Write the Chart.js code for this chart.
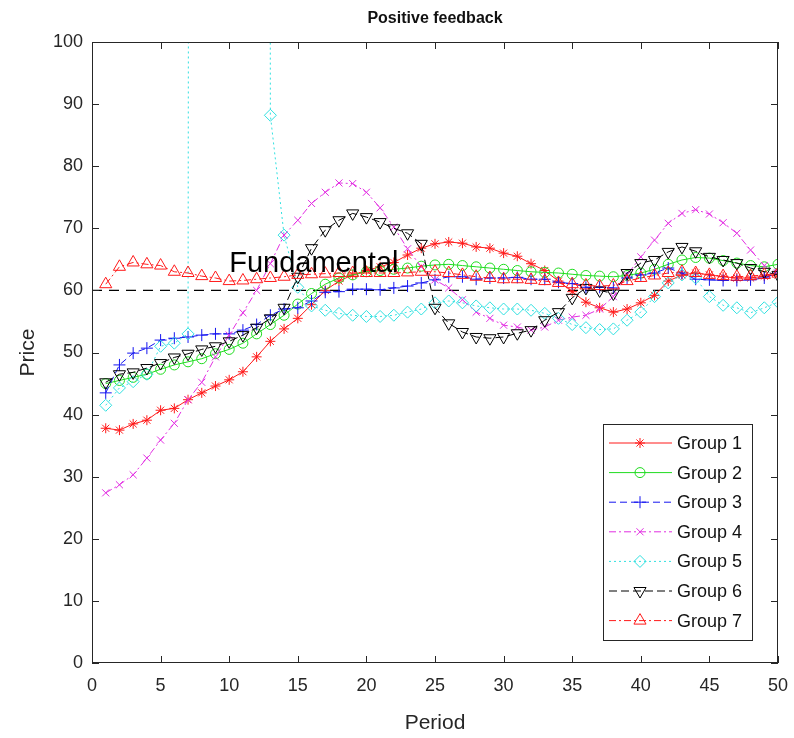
<!DOCTYPE html>
<html>
<head>
<meta charset="utf-8">
<title>Positive feedback</title>
<script src="https://cdn.jsdelivr.net/npm/chart.js@4.4.1/dist/chart.umd.min.js"></script>
<style>
  html, body { margin: 0; padding: 0; background: #fff; }
  #wrap { width: 794px; height: 738px; }
</style>
</head>
<body>
<div id="wrap"><canvas id="priceChart" width="794" height="738"></canvas></div>
<script>
const PERIODS = [1,2,3,4,5,6,7,8,9,10,11,12,13,14,15,16,17,18,19,20,21,22,23,24,25,
                 26,27,28,29,30,31,32,33,34,35,36,37,38,39,40,41,42,43,44,45,46,47,48,49,50];

const group1 = [37.8,37.5,38.5,39.1,40.7,41.0,42.4,43.5,44.6,45.6,46.9,49.3,51.8,53.8,55.5,57.7,60.0,61.5,62.5,63.2,
                63.8,64.5,65.7,66.8,67.5,67.8,67.6,67.0,66.8,66.0,65.5,64.3,63.2,61.5,59.8,58.1,57.2,56.5,57.0,58.0,
                59.2,61.5,62.5,62.8,62.5,62.2,62.0,62.0,62.3,62.5];
const group2 = [45.0,45.5,46.0,46.5,47.3,48.0,48.5,49.0,49.8,50.5,51.5,53.0,54.5,56.0,57.8,59.5,61.0,62.0,62.5,63.0,
                63.2,63.4,63.6,63.9,64.1,64.2,64.0,63.8,63.6,63.4,63.2,63.0,62.9,62.8,62.6,62.4,62.3,62.2,62.4,62.8,
                63.4,64.2,64.9,65.3,65.2,64.8,64.4,64.0,63.8,64.2];
const group3 = [43.5,48.0,49.9,50.7,52.0,52.3,52.5,52.8,53.0,53.0,53.6,54.5,56.0,57.0,57.2,58.3,59.7,59.8,60.2,60.2,
                60.1,60.4,60.7,61.2,61.7,62.2,62.2,61.8,62.0,62.0,62.1,61.8,61.8,61.3,61.1,60.5,60.5,60.4,62.0,62.5,
                62.8,63.6,62.8,61.8,61.7,61.6,61.6,61.7,62.0,62.8];
const group4 = [27.4,28.7,30.3,33.0,35.9,38.6,42.4,45.2,49.3,52.8,56.4,60.0,64.3,68.9,71.3,74.0,75.8,77.3,77.2,75.8,
                73.3,70.2,66.7,63.8,61.7,60.4,58.5,56.5,55.5,54.4,54.1,53.6,54.1,55.2,55.7,56.0,57.0,59.0,62.5,65.4,
                68.1,70.8,72.4,73.0,72.3,70.9,69.2,66.5,64.0,63.0];
// periods 8-12 are far above the axis limit (off the plot)
const group5 = [41.5,44.3,45.3,46.5,51.0,51.5,53.0,2000,2000,2000,2000,2000,88.2,68.9,60.5,57.5,56.8,56.3,56.0,55.8,
                55.8,56.0,56.5,57.0,58.0,58.3,58.0,57.5,57.2,57.0,57.0,56.8,56.3,55.5,54.5,54.0,53.7,53.8,55.2,56.5,
                59.0,61.2,62.5,62.0,59.0,57.6,57.2,56.4,57.2,58.1];
const group6 = [45.2,46.5,46.8,47.5,48.3,49.2,49.8,50.5,51.0,51.8,52.8,54.0,55.5,57.2,62.2,66.8,69.7,71.3,72.4,71.8,
                71.0,70.0,69.2,67.5,57.2,54.7,53.3,52.5,52.3,52.5,53.1,53.6,55.2,56.5,58.8,60.4,60.0,59.5,62.8,64.4,
                64.9,66.2,67.0,66.3,65.4,64.9,64.4,63.6,63.0,62.5];
const group7 = [61.0,63.8,64.5,64.2,64.0,63.0,62.8,62.3,62.0,61.5,61.6,61.8,62.0,62.2,62.5,62.6,62.7,62.8,62.8,62.8,
                62.8,62.8,62.9,63.0,63.0,62.8,62.5,62.2,62.0,61.8,61.8,61.7,61.5,61.2,61.0,60.8,60.7,60.8,61.5,62.0,
                62.4,62.8,63.0,62.8,62.5,62.3,62.2,62.3,62.5,62.7];

const FUNDAMENTAL = 60;
const FUND_SPAN = [0, 50];
const FUND_LABEL = "Fundamental";
const FUND_LABEL_AT = [10, 63];

const GROUP_NAMES = ["Group 1","Group 2","Group 3","Group 4","Group 5","Group 6","Group 7"];
const GROUP_VALUES = [group1, group2, group3, group4, group5, group6, group7];

const X_TICKS = [0,5,10,15,20,25,30,35,40,45,50];
const Y_TICKS = [0,10,20,30,40,50,60,70,80,90,100];

const FONT = '"Liberation Sans", Arial, Helvetica, sans-serif';
const AXIS_COLOR = '#262626';

// line style per group (MATLAB-like)
const STYLES = [
  {color: '#ff1a1a', dash: [],          point: 'star',     radius: 5, rot: 0},
  {color: '#1fdc1f', dash: [],          point: 'circle',   radius: 5, rot: 0},
  {color: '#1414f0', dash: [7, 4],      point: 'cross',    radius: 6, rot: 0},
  {color: '#e22ee2', dash: [7, 3, 2, 3],point: 'crossRot', radius: 5, rot: 0},
  {color: '#2fe0e0', dash: [2, 3],      point: 'rectRot',  radius: 6, rot: 0},
  {color: '#000000', dash: [8, 4],      point: 'triangle', radius: 7, rot: 180},
  {color: '#ff1a1a', dash: [7, 3, 2, 3],point: 'triangle', radius: 7, rot: 0}
];

function toXY(vals) {
  return vals.map((v, i) => ({x: PERIODS[i], y: v}));
}

const datasets = GROUP_NAMES.map((name, i) => ({
  label: name,
  data: toXY(GROUP_VALUES[i]),
  borderColor: STYLES[i].color,
  borderWidth: 1,
  borderDash: STYLES[i].dash,
  backgroundColor: 'rgba(0,0,0,0)',
  pointStyle: STYLES[i].point,
  pointRadius: STYLES[i].radius,
  pointRotation: STYLES[i].rot,
  pointBorderColor: STYLES[i].color,
  pointBackgroundColor: 'rgba(0,0,0,0)',
  pointBorderWidth: 1,
  tension: 0,
  order: GROUP_NAMES.length - i
}));

datasets.push({
  label: FUND_LABEL,
  data: FUND_SPAN.map(p => ({x: p, y: FUNDAMENTAL})),
  borderColor: '#000',
  borderWidth: 1.2,
  borderDash: [10, 7],
  pointRadius: 0,
  order: 99
});

const matlabFrame = {
  id: 'matlabFrame',
  afterDatasetsDraw(chart) {
    const {ctx, chartArea: a, scales: {x, y}} = chart;
    ctx.save();
    ctx.strokeStyle = AXIS_COLOR;
    ctx.lineWidth = 1;
    ctx.strokeRect(Math.round(a.left) + 0.5, Math.round(a.top) + 0.5,
                   Math.round(a.width) - 1, Math.round(a.height) - 1);
    ctx.beginPath();
    X_TICKS.forEach(t => {
      const px = Math.round(x.getPixelForValue(t)) + 0.5;
      ctx.moveTo(px, a.bottom); ctx.lineTo(px, a.bottom - 7);
      ctx.moveTo(px, a.top); ctx.lineTo(px, a.top + 7);
    });
    Y_TICKS.forEach(t => {
      const py = Math.round(y.getPixelForValue(t)) + 0.5;
      ctx.moveTo(a.left, py); ctx.lineTo(a.left + 7, py);
      ctx.moveTo(a.right, py); ctx.lineTo(a.right - 7, py);
    });
    ctx.stroke();

    ctx.fillStyle = '#000';
    ctx.font = '29px ' + FONT;
    ctx.textAlign = 'left';
    ctx.textBaseline = 'alphabetic';
    ctx.fillText(FUND_LABEL, x.getPixelForValue(FUND_LABEL_AT[0]), y.getPixelForValue(FUND_LABEL_AT[1]));
    ctx.restore();
  },
  afterDraw(chart) {
    const {ctx, chartArea: a} = chart;
    const w = 149, h = 216;
    const left = Math.round(a.right - 26 - w), top = Math.round(a.bottom - 23 - h);
    ctx.save();
    ctx.fillStyle = '#fff';
    ctx.fillRect(left, top, w, h);
    ctx.strokeStyle = AXIS_COLOR;
    ctx.lineWidth = 1;
    ctx.strokeRect(left + 0.5, top + 0.5, w, h);
    const drawPoint = Chart.helpers && Chart.helpers.drawPoint;
    GROUP_NAMES.forEach((name, i) => {
      const st = STYLES[i];
      const cy = top + 19 + i * 29.6;
      ctx.strokeStyle = st.color;
      ctx.lineWidth = 1;
      ctx.setLineDash(st.dash);
      ctx.beginPath();
      ctx.moveTo(left + 6, cy);
      ctx.lineTo(left + 69, cy);
      ctx.stroke();
      ctx.setLineDash([]);
      ctx.fillStyle = 'rgba(0,0,0,0)';
      if (drawPoint) {
        drawPoint(ctx, {pointStyle: st.point, radius: st.radius, rotation: st.rot, borderWidth: 1}, left + 37, cy);
      }
      ctx.fillStyle = '#111';
      ctx.font = '18px ' + FONT;
      ctx.textAlign = 'left';
      ctx.textBaseline = 'middle';
      ctx.fillText(name, left + 74, cy + 1);
    });
    ctx.restore();
  }
};

new Chart(document.getElementById('priceChart'), {
  type: 'line',
  data: {datasets: datasets},
  plugins: [matlabFrame],
  options: {
    responsive: false,
    animation: false,
    layout: {padding: {top: 0, right: 16, left: 0, bottom: 0}},
    plugins: {
      legend: {display: false},
      tooltip: {enabled: false},
      title: {
        display: true,
        text: 'Positive feedback',
        fullSize: false,
        color: '#111',
        font: {family: FONT, size: 16, weight: 'bold'},
        padding: {top: 9, bottom: 13.8}
      }
    },
    scales: {
      x: {
        type: 'linear',
        min: 0, max: 50,
        afterFit(s) { s.height = 75; s.paddingLeft = 0; s.paddingRight = 0; },
        afterBuildTicks(s) { s.ticks = X_TICKS.map(v => ({value: v})); },
        grid: {display: false, drawTicks: false},
        border: {display: false},
        ticks: {color: AXIS_COLOR, font: {family: FONT, size: 18}, padding: 12, maxRotation: 0},
        title: {display: true, text: 'Period', color: AXIS_COLOR, font: {family: FONT, size: 21}, padding: {top: 0, bottom: 2}}
      },
      y: {
        min: 0, max: 100,
        afterFit(s) { s.width = 92; },
        afterBuildTicks(s) { s.ticks = Y_TICKS.map(v => ({value: v})); },
        grid: {display: false, drawTicks: false},
        border: {display: false},
        ticks: {color: AXIS_COLOR, font: {family: FONT, size: 18}, padding: 9},
        title: {display: true, text: 'Price', color: AXIS_COLOR, font: {family: FONT, size: 21}, padding: {top: 16, bottom: 0}}
      }
    }
  }
});
</script>
</body>
</html>
